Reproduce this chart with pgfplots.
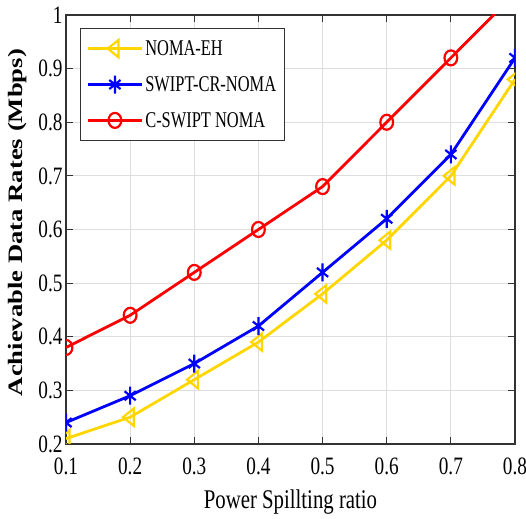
\documentclass[border=0pt]{standalone}
\usepackage{pgfplots}
\pgfplotsset{compat=1.18}
\usepackage{fontspec}
\setmainfont{Liberation Serif}
\newfontfamily\narrowserif{Liberation Serif}[FakeStretch=0.77]
\newfontfamily\legendserif{Liberation Serif}[FakeStretch=0.73]
\newfontfamily\wideserif{Liberation Serif}[FakeStretch=1.3]

\definecolor{ehyellow}{rgb}{1,0.84,0}
\definecolor{crblue}{rgb}{0,0,1}
\definecolor{cred}{rgb}{1,0,0}

\begin{document}
\begin{tikzpicture}
\begin{axis}[
  scale only axis,
  width=449bp, height=429bp,
  xmin=0.1, xmax=0.8, ymin=0.2, ymax=1,
  xtick={0.1,0.2,0.3,0.4,0.5,0.6,0.7,0.8},
  ytick={0.2,0.3,0.4,0.5,0.6,0.7,0.8,0.9,1},
  grid=major,
  major grid style={black!13, line width=0.8bp},
  axis line style={black!80, line width=1.2bp},
  tick style={black!80, line width=1bp},
  tick align=inside, major tick length=7bp,
  ticklabel style={font=\narrowserif\fontsize{25bp}{29bp}\selectfont},
  /pgf/number format/assume math mode=true,
  xticklabel style={yshift=-10bp},
  xlabel={Power Spillting ratio},
  xlabel style={font=\narrowserif\fontsize{27bp}{30bp}\selectfont,
    at={(rel axis cs:0.5,0)}, anchor=base, yshift=-65bp},
  ylabel={Achievable Data Rates (Mbps)},
  ylabel style={font=\wideserif\bfseries\fontsize{20.5bp}{24bp}\selectfont,
    at={(rel axis cs:0,0.516)}, anchor=base, yshift=43bp},
  legend style={at={(0.031,0.970)}, anchor=north west,
    font=\legendserif\fontsize{22.5bp}{26bp}\selectfont,
    draw=black!80, line width=1.2bp, row sep=15.5bp,
    inner xsep=6bp, inner ysep=10bp},
  legend cell align=left,
  legend image code/.code={%
    \draw[mark repeat=2, mark phase=2] plot coordinates {(0bp,0bp) (27bp,0bp) (54bp,0bp)};},
  every axis plot/.append style={line width=2.8bp},
  clip marker paths=true,
]
\coordinate (ll) at (rel axis cs:0,0);
\coordinate (ur) at (rel axis cs:1,1);
\addplot[color=ehyellow, mark=triangle, mark size=10bp,
  mark options={solid, rotate=90, yscale=0.72, line width=2.2bp}]
  coordinates {(0.1,0.21) (0.2,0.25) (0.3,0.32) (0.4,0.39) (0.5,0.48) (0.6,0.58) (0.7,0.70) (0.8,0.88)};
\addlegendentry{NOMA-EH}
\addplot[color=crblue, mark=asterisk, mark size=9bp,
  mark options={solid, xscale=0.72, line width=2.2bp}]
  coordinates {(0.1,0.24) (0.2,0.29) (0.3,0.35) (0.4,0.42) (0.5,0.52) (0.6,0.62) (0.7,0.74) (0.8,0.92)};
\addlegendentry{SWIPT-CR-NOMA}
\addplot[color=cred, mark=o, mark size=7.5bp,
  mark options={solid, xscale=0.85, line width=2.2bp}]
  coordinates {(0.1,0.38) (0.2,0.44) (0.3,0.52) (0.4,0.60) (0.5,0.68) (0.6,0.80) (0.7,0.92) (0.8,1.04)};
\addlegendentry{C-SWIPT NOMA}
\end{axis}
% page frame: fixed margins around the plot area
\pgfresetboundingbox
\path ([shift={(-66bp,-75bp)}]ll) rectangle ([shift={(11bp,15bp)}]ur);
\end{tikzpicture}
\end{document}
